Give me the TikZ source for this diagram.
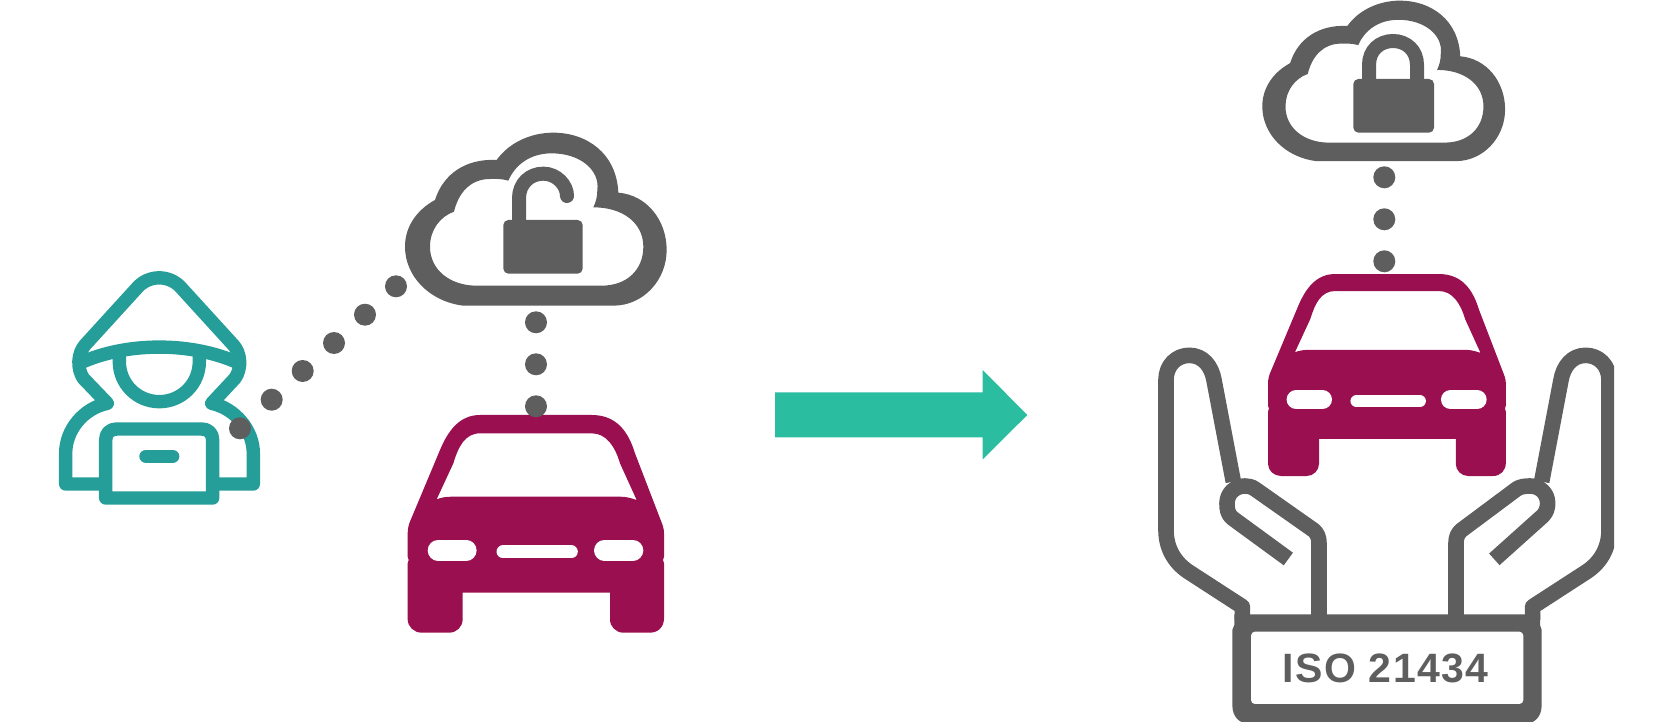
\documentclass[tikz,border=0pt]{standalone}
\usepackage{fontspec}
\newfontfamily\platefont[LetterSpace=3.5]{Liberation Sans}
\definecolor{hoodteal}{HTML}{259E99}
\definecolor{cloudgray}{HTML}{5E5E5E}
\definecolor{carred}{HTML}{9A0F4F}
\definecolor{arrowgreen}{HTML}{2ABD9F}
\tikzset{
    dot/.style={circle, fill=cloudgray, inner sep=0pt, minimum size=11pt},
    hoodline/.style={draw=hoodteal, line width=6.7pt, line join=round},
    lockline/.style={draw=cloudgray, line width=7pt},
    handline/.style={draw=cloudgray, line width=7.8pt, line join=round},
    cloud/.pic={
        \fill[cloudgray, even odd rule]
            (250,587) -- (700,587) .. controls (790,587) and (860,510) .. (860,420)
            .. controls (860,330) and (800,255) .. (715,248)
            .. controls (710,130) and (620,68) .. (520,68)
            .. controls (450,68) and (385,100) .. (350,150)
            .. controls (260,145) and (190,190) .. (165,270)
            .. controls (110,300) and (75,350) .. (75,410)
            .. controls (75,500) and (150,575) .. (250,587) -- cycle
            (285,527) -- (665,527) .. controls (740,527) and (790,480) .. (790,410)
            .. controls (790,340) and (730,292) .. (640,292)
            .. controls (648,275) and (652,260) .. (652,240)
            .. controls (660,180) and (600,130) .. (515,130)
            .. controls (450,130) and (405,165) .. (385,212)
            .. controls (360,205) and (345,207) .. (330,207)
            .. controls (270,207) and (235,250) .. (222,305)
            .. controls (180,320) and (150,360) .. (150,410)
            .. controls (150,480) and (210,525) .. (285,527) -- cycle;
    },
    car/.pic={
        \begin{scope}[scale=#1/3]
            \fill[carred, even odd rule]
                (270,345) -- (605,345) .. controls (680,345) and (715,395) .. (735,460)
                -- (810,655) .. controls (818,675) and (822,685) .. (822,700)
                -- (822,770) -- (819,780) -- (822,790)
                -- (822,955) .. controls (822,980) and (805,998) .. (780,998)
                -- (700,998) .. controls (678,998) and (660,980) .. (660,958)
                -- (660,878) -- (218,878)
                -- (218,958) .. controls (218,980) and (200,998) .. (178,998)
                -- (95,998) .. controls (72,998) and (53,980) .. (53,958)
                -- (53,790) -- (56,780) -- (53,770)
                -- (53,700) .. controls (53,685) and (57,670) .. (62,660)
                -- (150,450) .. controls (175,390) and (210,345) .. (270,345) -- cycle
                (270,400) -- (605,400) .. controls (650,400) and (675,440) .. (690,490)
                -- (740,600) .. controls (725,595) and (710,590) .. (690,590)
                -- (190,590) .. controls (170,590) and (155,592) .. (140,598)
                -- (190,490) .. controls (205,440) and (225,400) .. (270,400) -- cycle;
            \draw[white, line cap=round, line width=#1*10.3pt] (144,751) -- (229,751);
            \draw[white, line cap=round, line width=#1*10.3pt] (643,751) -- (729,751);
            \draw[white, line cap=round, line width=#1*6.5pt] (339,756) -- (544,756);
        \end{scope}
    },
}

\begin{document}
\begin{tikzpicture}[x=0.5pt, y=-0.5pt]
    \useasboundingbox (0,0) rectangle (1672,722);
    \clip (0,0) rectangle (1672,722);

    % hacker
    \begin{scope}[shift={(30,240)}, scale=1/3]
        \draw[hoodline] (227,732) -- (107,732) -- (107,640)
            .. controls (107,570) and (160,505) .. (232,490) -- (160,415)
            .. controls (140,385) and (143,340) .. (165,315) -- (320,145)
            .. controls (355,103) and (420,103) .. (455,145) -- (610,315)
            .. controls (633,340) and (636,385) .. (615,415) -- (545,490)
            .. controls (615,505) and (670,570) .. (670,640) -- (670,732) -- (550,732);
        \draw[hoodline] (148,370) .. controls (290,305) and (485,305) .. (628,370);
        \draw[hoodline] (268,345) -- (268,365) .. controls (268,432) and (322,485) .. (388,485)
            .. controls (454,485) and (508,432) .. (508,365) -- (508,345);
        \draw[hoodline] (227,774) -- (227,600) .. controls (227,580) and (240,567) .. (260,567)
            -- (515,567) .. controls (535,567) and (548,580) .. (548,600) -- (548,774) -- cycle;
        \draw[hoodline, line cap=round] (348,649) -- (428,649);
    \end{scope}

    \pic[shift={(380,110)}, scale=1/3] {cloud};
    \pic at (390,300) {car=1};

    % open lock
    \begin{scope}[shift={(380,110)}, scale=1/3]
        \fill[cloudgray, rounded corners=2.5pt] (370,330) rectangle (608,491);
        \draw[lockline, line cap=round] (417,340) -- (417,265)
            .. controls (417,220) and (450,191) .. (490,191)
            .. controls (530,191) and (561,225) .. (561,258);
    \end{scope}

    % attack path
    \foreach \i/\x/\y in {1/240/428.3, 2/271.7/399.7, 3/302.7/371, 4/334/343, 5/365/314.7, 6/396/286.3} {
        \node[dot] (a\i) at (\x,\y) {};
    }
    \foreach \i/\y in {1/322.3, 2/364.3, 3/406.3} {
        \node[dot] (b\i) at (536,\y) {};
        \node[dot] (c\i) at (1384.3,\y-145) {};
    }

    \fill[arrowgreen] (775,392.3) -- (982.7,392.3) -- (982.7,370) -- (1027.3,415)
        -- (982.7,459.3) -- (982.7,437.3) -- (775,437.3) -- cycle;

    \pic[shift={(1239.1,-20.4)}, scale=0.3093] {cloud};
    \pic at (1251.6,167.3) {car=0.928};

    % closed lock
    \begin{scope}[shift={(1240,0)}, scale=1/3]
        \fill[cloudgray, rounded corners=2.5pt] (340,237) rectangle (582,398);
        \draw[lockline] (387,245) -- (387,195) .. controls (387,150) and (420,123) .. (459,123)
            .. controls (498,123) and (531,150) .. (531,195) -- (531,245);
    \end{scope}

    % hands and plate
    \begin{scope}[shift={(1140,330)}, scale=1/3]
        \draw[handline] (307,870) -- (307,830) -- (145,725)
            .. controls (100,695) and (78,650) .. (78,600) -- (78,150)
            .. controls (78,105) and (110,76) .. (148,76)
            .. controls (190,76) and (215,110) .. (222,150) -- (280,455);
        \draw[handline] (445,687) -- (278,565) .. controls (262,553) and (261,535) .. (261,520)
            .. controls (261,490) and (285,468) .. (315,468)
            .. controls (325,468) and (335,470) .. (345,477) -- (520,600)
            .. controls (532,610) and (537,622) .. (537,640) -- (537,870);
        \begin{scope}
            \clip (700,0) rectangle (1422,1000);
            \draw[handline] (1178,870) -- (1178,830) -- (1340,725)
                .. controls (1385,695) and (1407,650) .. (1407,600) -- (1407,150)
                .. controls (1407,105) and (1375,76) .. (1337,76)
                .. controls (1295,76) and (1270,110) .. (1263,150) -- (1205,455);
        \end{scope}
        \draw[handline] (1063,688) -- (1208,558) .. controls (1218,548) and (1223,535) .. (1223,520)
            .. controls (1223,490) and (1200,468) .. (1170,468)
            .. controls (1155,468) and (1140,470) .. (1130,477) -- (965,600)
            .. controls (953,610) and (948,622) .. (948,640) -- (948,870);
        \fill[cloudgray] (283,853) -- (1200,853) -- (1200,885) -- (1205,900) -- (1205,1125)
            .. controls (1205,1160) and (1185,1182) .. (1150,1182) -- (332,1182)
            .. controls (297,1182) and (277,1160) .. (277,1125) -- (277,900) -- (283,885) -- cycle;
        \fill[white, rounded corners=2pt] (333,905) rectangle (1150,1122);
        \node[text=cloudgray, inner sep=0pt] (isolabel) at (736.5,1016) {\platefont\fontsize{20.5}{21}\selectfont\bfseries ISO 21434};
    \end{scope}
\end{tikzpicture}
\end{document}
